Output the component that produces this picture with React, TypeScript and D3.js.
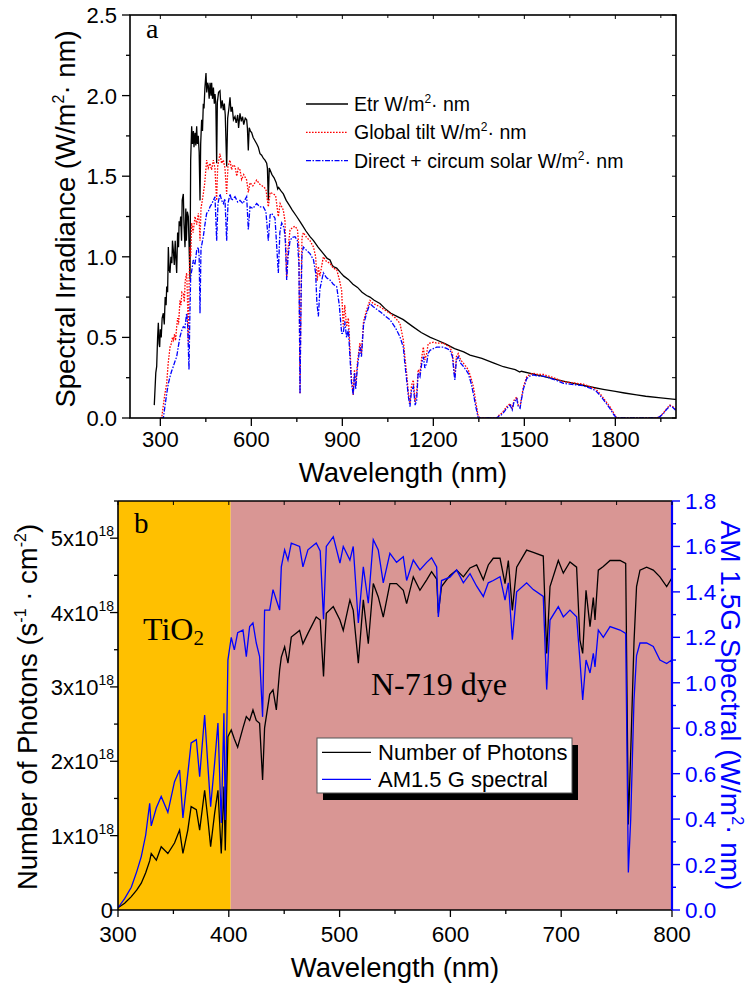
import React from "react";
import * as d3 from "d3";

// ---------- Panel a data (W/m^2 nm) ----------
const etrWl = [280,285,288,291,293.4,296,297.8,300,303,306,309.9,313,316,319,321,324,326.4,329,331.9,335,338,340,342.9,346,349,351,353.9,357,360,362,364.8,367,370,372,375.8,378,381.3,384,386,389,392.3,395,397.8,400,403.3,406,409,411,414.3,417,419.8,422,425,428,430.8,433,436.2,439,441.7,444,447,450.5,453,456,458.2,461,464,467,469.2,472,475,478,480.2,483,485.7,488,492,496.7,500,504,507.7,511,514,518.7,522,526,529.7,533,537,541,546.2,550,555,558,562.6,567,571,575,580,584.6,587,590,593,597,601,606,612,618,623,628.6,634,640,645,650.6,653,656,659,661.5,668,675,682,687,690,697,705.5,715,725,735,749.5,760,770,780,793.4,805,820,837.4,850,859.4,866,870,881.4,895,905,919.8,935,950,965,980,991,1005,1024,1040,1060,1080,1101,1130,1160,1190,1211,1240,1270,1300,1321,1360,1400,1431,1470,1485,1490,1541,1580,1620,1651,1700,1760,1800,1830,1870,1900,1950,1997,2000];
const etrVal = [0.08,0.28,0.32,0.5,0.59,0.46,0.44,0.55,0.5,0.62,0.65,0.58,0.75,0.7,0.815,0.78,1.06,0.92,0.9,1.0,0.96,1.1,1.04,0.95,1.1,1.0,0.9,1.15,1.06,1.22,1.19,1.25,1.1,1.35,1.39,1.2,1.06,1.3,1.1,1.28,1.25,1.05,0.86,1.6,1.81,1.7,1.78,1.68,1.77,1.69,1.81,1.7,1.75,1.65,1.35,1.7,1.85,1.78,1.95,1.92,2.05,2.14,2.02,2.08,2.06,1.98,2.08,2.0,2.08,1.98,2.05,1.95,2.01,1.95,1.58,1.96,2.02,2.03,1.92,1.97,1.91,1.95,1.88,1.56,1.86,1.92,1.99,1.9,1.93,1.85,1.87,1.83,1.88,1.8,1.89,1.84,1.87,1.82,1.86,1.85,1.8,1.66,1.8,1.78,1.77,1.74,1.72,1.7,1.68,1.64,1.63,1.61,1.6,1.58,1.55,1.35,1.55,1.54,1.51,1.49,1.46,1.42,1.43,1.41,1.39,1.35,1.32,1.29,1.25,1.22,1.19,1.16,1.125,1.1,1.06,1.02,0.99,0.98,0.95,0.94,0.93,0.9,0.88,0.86,0.83,0.81,0.78,0.76,0.75,0.73,0.71,0.68,0.65,0.63,0.61,0.57,0.53,0.5,0.484,0.46,0.43,0.41,0.39,0.37,0.34,0.318,0.3,0.285,0.29,0.267,0.25,0.232,0.219,0.2,0.178,0.165,0.155,0.143,0.135,0.125,0.116,0.115];

const globalWl = [300,304.4,310,315,321,326,331.9,336,340,342.9,347,350,353.9,357,360,364.8,368,371,375.8,379,382,386.8,389,392.3,395,397.8,400,403.3,408,414.3,420,425.3,428,430.8,434,441.7,446,452.7,458,463.7,469,474.7,480,485.7,489,496.7,502,507.7,513,518.7,523,529.7,535,540,546.2,552,557,562.6,568,575,584.6,590,595.6,605,617.6,628,639.6,648,656,662,672.5,680,689,695,705.5,711,716.5,721,727.5,735,744,752,757,760.5,764,767,771.5,782,793.4,805,812,817,821,826,837.4,848,859.4,870,881.4,890,897.8,903,908,914,920,926,930,936,940,944,950,958,963,970,980,991,1002,1024,1040,1057,1075,1090,1101,1106,1112,1118,1123,1128,1134,1140,1145,1150,1156,1162,1167,1172,1178,1183,1189,1200,1211,1233,1245,1255,1263,1268,1271,1276,1282,1290,1299,1307,1315,1324,1332,1340,1348,1355,1409,1418,1425,1434,1442,1453,1460,1466,1475,1480,1486,1490,1497,1508,1518,1530,1545,1563,1580,1596,1610,1629,1650,1673,1695,1717,1735,1750,1766,1782,1795,1804,1936,1947,1958,1970,1980,1990,2000];
const globalVal = [0,0,0.08,0.15,0.215,0.34,0.44,0.46,0.5,0.484,0.52,0.48,0.566,0.62,0.58,0.73,0.7,0.78,0.77,0.72,0.85,0.9,0.78,0.46,0.85,1.06,1.0,1.21,1.15,1.25,1.2,1.27,1.22,1.1,1.3,1.39,1.45,1.6,1.55,1.58,1.54,1.6,1.55,1.35,1.56,1.64,1.58,1.6,1.55,1.39,1.56,1.6,1.54,1.57,1.56,1.5,1.55,1.54,1.48,1.51,1.476,1.4,1.46,1.44,1.476,1.45,1.435,1.42,1.31,1.4,1.39,1.38,1.25,1.33,1.29,1.22,0.876,1.05,1.166,1.18,1.19,1.17,1.05,0.15,0.8,1.12,1.15,1.12,1.1,1.06,1.0,0.85,0.94,0.88,1.0,0.97,0.96,0.93,0.92,0.86,0.79,0.566,0.7,0.566,0.62,0.4,0.25,0.143,0.3,0.2,0.35,0.465,0.4,0.6,0.67,0.73,0.71,0.69,0.67,0.65,0.62,0.587,0.484,0.38,0.277,0.15,0.09,0.2,0.236,0.1,0.15,0.3,0.28,0.38,0.44,0.36,0.4,0.46,0.465,0.47,0.465,0.465,0.45,0.44,0.4,0.3,0.256,0.38,0.4,0.36,0.34,0.32,0.3,0.25,0.194,0.1,0.01,0,0,0.02,0.03,0.05,0.07,0.09,0.06,0.11,0.13,0.08,0.07,0.12,0.194,0.256,0.27,0.277,0.27,0.27,0.26,0.25,0.24,0.225,0.22,0.215,0.21,0.194,0.18,0.15,0.11,0.07,0.03,0,0,0.01,0.03,0.06,0.08,0.07,0.05];

const directWl = [300,309.9,315,321,326,331.9,337,342.9,348,353.9,359,364.8,370,375.8,381,386.8,390,394.5,397,400,404,408.8,414,419.8,425,428,430.8,434,441.7,447,452.7,458,463.7,470,480.2,485.7,490,496.7,502,507.7,513,518.7,523,529.7,535,540,546.2,555,562.6,572,584.6,590,595.6,605,617.6,628,639.6,648,656,662,667,678,689,694,700,708,712,716.5,721,727.5,735,744,752,757,760.5,764,767,771.5,782,793.4,805,812,816,821,826,837.4,848,859.4,870,881.4,890,897.8,903,908,914,920,926,930,936,940,944,950,958,963,970,980,991,1002,1024,1040,1057,1075,1090,1101,1106,1112,1118,1123,1128,1134,1140,1145,1150,1156,1162,1167,1172,1178,1183,1189,1200,1211,1233,1245,1255,1263,1268,1271,1276,1282,1290,1299,1307,1315,1324,1332,1340,1348,1409,1418,1425,1434,1442,1453,1460,1466,1475,1480,1486,1490,1497,1508,1518,1530,1545,1563,1580,1596,1610,1629,1650,1673,1695,1717,1735,1750,1766,1782,1795,1804,1936,1947,1958,1970,1980,1990,2000];
const directVal = [0,0,0.07,0.15,0.21,0.256,0.29,0.32,0.35,0.38,0.44,0.504,0.54,0.566,0.56,0.65,0.58,0.3,0.6,0.876,0.92,0.98,0.95,1.04,1.06,1.0,0.65,1.05,1.125,1.2,1.27,1.28,1.31,1.33,1.373,1.1,1.33,1.39,1.35,1.33,1.36,1.1,1.33,1.39,1.35,1.36,1.373,1.34,1.35,1.33,1.373,1.17,1.31,1.3,1.33,1.31,1.31,1.28,1.1,1.26,1.27,1.24,0.9,1.15,1.21,1.18,1.1,0.856,1.0,1.1,1.12,1.125,1.1,0.95,0.15,0.75,1.02,1.06,1.04,1.02,0.98,0.9,0.72,0.63,0.8,0.9,0.87,0.856,0.83,0.815,0.7,0.525,0.525,0.6,0.5,0.55,0.35,0.22,0.143,0.28,0.18,0.32,0.44,0.38,0.58,0.65,0.71,0.69,0.66,0.635,0.61,0.56,0.504,0.44,0.34,0.236,0.13,0.07,0.17,0.194,0.08,0.11,0.28,0.256,0.34,0.38,0.31,0.34,0.4,0.42,0.43,0.44,0.44,0.43,0.42,0.38,0.28,0.236,0.36,0.38,0.34,0.32,0.3,0.277,0.22,0.15,0.07,0,0,0.015,0.02,0.04,0.06,0.08,0.05,0.1,0.12,0.07,0.06,0.11,0.18,0.245,0.26,0.267,0.26,0.26,0.25,0.24,0.23,0.215,0.21,0.205,0.2,0.185,0.17,0.14,0.1,0.06,0.02,0,0,0.008,0.027,0.055,0.075,0.065,0.045];

// ---------- Panel b data ----------
const bWl = [300,306,312,317,321,325,328.6,330,334.6,339,345,351,355.6,358.6,363,366,370.7,373.7,378.2,381.2,383.6,387.2,390.2,393.2,395.6,396.8,399.2,402.2,405,408,412.8,415.8,418.8,421.8,424.8,427.8,430.5,432.3,436.9,439.9,442.9,445.9,447.4,450.4,453.4,456.4,463.9,466.9,471.4,478.9,482.5,485.5,488,494.3,500.3,503.3,509.3,512.3,516.9,521.4,525.9,530.4,534.9,539.4,545.4,551.4,557.5,560.5,566.5,572.5,578.6,583,587.6,589.1,592,599.6,605.6,611.7,617.7,623.7,629.7,634.2,638.7,644.8,649.3,652.3,655.9,659.8,668.8,674.8,683.8,686.9,689.9,697.4,701.9,707.9,713.9,716.9,719.4,722.4,726,729,730.5,733.5,738,744.1,753.1,758.2,760.6,762.7,765.7,768,771.1,777.1,783.1,789.1,795.2,799.7,800];
const bSpectral = [0.01,0.05,0.1,0.17,0.235,0.33,0.47,0.37,0.45,0.5,0.43,0.565,0.616,0.405,0.6,0.735,0.75,0.587,0.858,0.63,0.455,0.647,0.823,0.383,0.866,0.396,1.1,1.2,1.145,1.22,1.232,1.115,1.247,1.263,1.175,1.115,0.85,1.32,1.32,1.41,1.364,1.32,1.51,1.585,1.54,1.615,1.6,1.51,1.585,1.615,1.58,1.28,1.6,1.643,1.527,1.6,1.54,1.6,1.263,1.51,1.35,1.63,1.585,1.44,1.57,1.53,1.555,1.45,1.54,1.497,1.53,1.55,1.51,1.29,1.45,1.465,1.497,1.44,1.48,1.425,1.38,1.44,1.45,1.467,1.364,1.44,1.19,1.4,1.44,1.41,1.38,0.97,1.276,1.335,1.29,1.32,1.29,1.1,0.924,1.1,1.043,1.13,1.07,1.232,1.2,1.247,1.232,1.217,0.165,0.396,0.924,1.12,1.175,1.175,1.16,1.1,1.085,1.1,1.09];
const bPhotons = [0.03,0.09,0.18,0.27,0.36,0.5,0.66,0.76,0.67,0.85,0.76,0.9,1.075,0.76,1.075,1.39,1.35,1.075,1.61,1.21,0.85,1.3,1.61,0.76,1.66,0.8,2.33,2.42,2.3,2.19,2.45,2.6,2.55,2.69,2.55,2.51,1.75,2.45,2.9,2.96,2.69,3.23,3.4,3.54,3.32,3.67,3.76,3.58,3.72,3.94,3.9,3.14,3.99,4.08,3.9,3.76,4.17,4.03,3.32,4.17,3.58,4.39,4.21,3.94,4.39,4.39,4.3,4.12,4.48,4.3,4.44,4.55,4.45,3.99,4.35,4.5,4.57,4.48,4.6,4.64,4.44,4.64,4.73,4.73,4.39,4.7,4.03,4.61,4.84,4.81,4.76,3.45,4.35,4.7,4.53,4.68,4.61,3.63,3.45,4.3,3.81,4.2,3.9,4.57,4.62,4.7,4.7,4.66,1.15,2.1,3.6,4.35,4.57,4.61,4.57,4.48,4.35,4.46,4.4];

const topXTicks = [300, 600, 900, 1200, 1500, 1800];
const topYTicks = [0, 0.5, 1.0, 1.5, 2.0, 2.5];
const botXTicks = [300, 400, 500, 600, 700, 800];
const botLeftTicks = [0, 1, 2, 3, 4, 5];
const botRightTicks = [0, 0.2, 0.4, 0.6, 0.8, 1.0, 1.2, 1.4, 1.6, 1.8];

const SANS = "'Liberation Sans', Arial, sans-serif";
const SERIF = "'Liberation Serif', 'Times New Roman', serif";
const BLUE = "#0000ff";

export default function App() {
  // Panel a
  const xA = d3.scaleLinear().domain([200, 2000]).range([130, 676]);
  const yA = d3.scaleLinear().domain([0, 2.5]).range([418, 15]);
  const lineA = (wl: number[], v: number[]) =>
    d3.line<number>().x((_, i) => xA(wl[i])).y((d) => yA(d))(v) || "";

  // Panel b
  const xB = d3.scaleLinear().domain([300, 800]).range([118, 672]);
  const yBL = d3.scaleLinear().domain([0, 5.5]).range([910, 501]);
  const yBR = d3.scaleLinear().domain([0, 1.8]).range([910, 501]);
  const photLine = d3.line<number>().x((_, i) => xB(bWl[i])).y((d) => yBL(d))(bPhotons) || "";
  const specLine = d3.line<number>().x((_, i) => xB(bWl[i])).y((d) => yBR(d))(bSpectral) || "";

  const [ax0, ax1] = xA.range();
  const [ay0, ay1] = yA.range();
  const [bx0, bx1] = xB.range();
  const [by0, by1] = yBL.range();

  const aMinorX = d3.range(300, 2001, 150);
  const aMinorY = d3.range(0, 2.51, 0.25);
  const bMinorX = d3.range(300, 801, 50);
  const bMinorL = d3.range(0, 5.51, 0.5);
  const bMinorR = d3.range(0, 1.81, 0.1);

  return (
    <svg width={751} height={984} style={{ position: "absolute", left: 0, top: 0, background: "#fff" }}>
      <defs>
        <clipPath id="clipA"><rect x={ax0} y={ay1} width={ax1 - ax0} height={ay0 - ay1} /></clipPath>
        <clipPath id="clipB"><rect x={bx0} y={by1} width={bx1 - bx0} height={by0 - by1} /></clipPath>
      </defs>

      {/* ================= Panel a ================= */}
      <g clipPath="url(#clipA)">
        <path d={lineA(etrWl, etrVal)} fill="none" stroke="#000" strokeWidth={1.3} />
        <path d={lineA(globalWl, globalVal)} fill="none" stroke="#ff0000" strokeWidth={1.3} strokeDasharray="1.6 1.4" />
        <path d={lineA(directWl, directVal)} fill="none" stroke={BLUE} strokeWidth={1.3} strokeDasharray="5 1.5 1.5 1.5" />
      </g>
      <rect x={ax0} y={ay1} width={ax1 - ax0} height={ay0 - ay1} fill="none" stroke="#000" strokeWidth={1.6} />
      {aMinorX.map((v) => {
        const major = v % 300 === 0;
        return (
          <g key={"ax" + v}>
            <line x1={xA(v)} x2={xA(v)} y1={ay0} y2={ay0 + (major ? 8 : 4)} stroke="#000" strokeWidth={1.3} />
            <line x1={xA(v)} x2={xA(v)} y1={ay1} y2={ay1 + (major ? 4 : 3)} stroke="#000" strokeWidth={1} />
          </g>
        );
      })}
      {aMinorY.map((v) => {
        const major = Math.abs(v * 2 - Math.round(v * 2)) < 1e-6;
        return (
          <g key={"ay" + v}>
            <line x1={ax0} x2={ax0 - (major ? 8 : 4)} y1={yA(v)} y2={yA(v)} stroke="#000" strokeWidth={1.3} />
            <line x1={ax1} x2={ax1 - 4} y1={yA(v)} y2={yA(v)} stroke="#000" strokeWidth={1} />
          </g>
        );
      })}
      {topXTicks.map((v) => (
        <text key={"axl" + v} x={xA(v)} y={446.5} textAnchor="middle" fontFamily={SANS} fontSize={22}>{v}</text>
      ))}
      {topYTicks.map((v) => (
        <text key={"ayl" + v} x={117} y={yA(v) + 8} textAnchor="end" fontFamily={SANS} fontSize={22}>{v.toFixed(1)}</text>
      ))}
      <text x={403} y={482} textAnchor="middle" fontFamily={SANS} fontSize={27.5}>Wavelength (nm)</text>
      <text transform="translate(74.5,219) rotate(-90)" textAnchor="middle" fontFamily={SANS} fontSize={27.5}>
        Spectral Irradiance (W/m<tspan fontSize={16} dy={-11}>2</tspan><tspan dy={11}>· nm)</tspan>
      </text>
      <text x={146} y={38} fontFamily={SERIF} fontSize={28}>a</text>

      {/* legend a */}
      <line x1={306} x2={348} y1={104} y2={104} stroke="#000" strokeWidth={1.3} />
      <line x1={306} x2={348} y1={132.3} y2={132.3} stroke="#ff0000" strokeWidth={1.3} strokeDasharray="1.6 1.4" />
      <line x1={306} x2={348} y1={160.7} y2={160.7} stroke={BLUE} strokeWidth={1.3} strokeDasharray="5 1.5 1.5 1.5" />
      <text x={354} y={111} fontFamily={SANS} fontSize={19.5}>
        Etr W/m<tspan fontSize={12} dy={-8}>2</tspan><tspan dy={8}>· nm</tspan>
      </text>
      <text x={354} y={139.3} fontFamily={SANS} fontSize={19.5}>
        Global tilt W/m<tspan fontSize={12} dy={-8}>2</tspan><tspan dy={8}>· nm</tspan>
      </text>
      <text x={354} y={167.7} fontFamily={SANS} fontSize={19.5}>
        Direct + circum solar W/m<tspan fontSize={12} dy={-8}>2</tspan><tspan dy={8}>· nm</tspan>
      </text>

      {/* ================= Panel b ================= */}
      <rect x={bx0} y={by1} width={xB(401.7) - bx0} height={by0 - by1} fill="#ffc000" />
      <rect x={xB(401.7)} y={by1} width={bx1 - xB(401.7)} height={by0 - by1} fill="#d99694" />
      <g clipPath="url(#clipB)">
        <path d={photLine} fill="none" stroke="#000" strokeWidth={1.3} />
        <path d={specLine} fill="none" stroke={BLUE} strokeWidth={1.3} />
      </g>
      <line x1={bx0} x2={bx1} y1={by1} y2={by1} stroke="#000" strokeWidth={1.6} />
      <line x1={bx0} x2={bx1} y1={by0} y2={by0} stroke="#000" strokeWidth={1.6} />
      <line x1={bx0} x2={bx0} y1={by1} y2={by0} stroke="#000" strokeWidth={1.6} />
      <line x1={bx1} x2={bx1} y1={by1} y2={by0} stroke={BLUE} strokeWidth={2.2} />
      {bMinorX.map((v) => {
        const major = v % 100 === 0;
        return (
          <g key={"bx" + v}>
            <line x1={xB(v)} x2={xB(v)} y1={by0} y2={by0 + (major ? 7 : 4)} stroke="#000" strokeWidth={1.3} />
            <line x1={xB(v)} x2={xB(v)} y1={by1} y2={by1 + 4} stroke="#000" strokeWidth={1} />
          </g>
        );
      })}
      {bMinorL.map((v) => {
        const major = Math.abs(v - Math.round(v)) < 1e-6;
        return <line key={"bl" + v} x1={bx0} x2={bx0 - (major ? 8 : 4)} y1={yBL(v)} y2={yBL(v)} stroke="#000" strokeWidth={1.3} />;
      })}
      {bMinorR.map((v) => {
        const major = Math.abs(v * 5 - Math.round(v * 5)) < 1e-6;
        return <line key={"br" + v} x1={bx1} x2={bx1 + (major ? 8 : 4)} y1={yBR(v)} y2={yBR(v)} stroke={BLUE} strokeWidth={1.4} />;
      })}
      {botXTicks.map((v) => (
        <text key={"bxl" + v} x={xB(v)} y={941.5} textAnchor="middle" fontFamily={SANS} fontSize={22.5}>{v}</text>
      ))}
      {botLeftTicks.map((v) =>
        v === 0 ? (
          <text key={"bll" + v} x={113} y={yBL(v) + 8} textAnchor="end" fontFamily={SANS} fontSize={22}>0</text>
        ) : (
          <text key={"bll" + v} x={114} y={yBL(v) + 8} textAnchor="end" fontFamily={SANS} fontSize={22}>
            {v}x10<tspan fontSize={14} dy={-10}>18</tspan>
          </text>
        )
      )}
      {botRightTicks.map((v) => (
        <text key={"brl" + v} x={685} y={yBR(v) + 8} fontFamily={SANS} fontSize={22.5} fill={BLUE}>{v.toFixed(1)}</text>
      ))}
      <text x={395} y={976.5} textAnchor="middle" fontFamily={SANS} fontSize={27.5}>Wavelength (nm)</text>
      <text transform="translate(36.5,707) rotate(-90)" textAnchor="middle" fontFamily={SANS} fontSize={27.5}>
        Number of Photons (s<tspan fontSize={16} dy={-11}>-1</tspan><tspan dy={11}> · cm</tspan><tspan fontSize={16} dy={-11}>-2</tspan><tspan dy={11}>)</tspan>
      </text>
      <text transform="translate(721,705.5) rotate(90)" textAnchor="middle" fontFamily={SANS} fontSize={28} fill={BLUE}>
        AM 1.5G Spectral (W/m<tspan fontSize={16} dy={-11}>2</tspan><tspan dy={11}>· nm)</tspan>
      </text>
      <text x={134} y={533} fontFamily={SERIF} fontSize={29}>b</text>
      <text x={143} y={640} fontFamily={SERIF} fontSize={32}>
        TiO<tspan fontSize={21} dy={5}>2</tspan>
      </text>
      <text x={371} y={695} fontFamily={SERIF} fontSize={32}>N-719 dye</text>

      {/* legend b */}
      <rect x={323} y={745} width={255} height={55} fill="#000" />
      <rect x={317} y={738} width={255} height={55} fill="#fff" stroke="#555" strokeWidth={1} />
      <line x1={322} x2={371} y1={752.3} y2={752.3} stroke="#000" strokeWidth={1.2} />
      <line x1={322} x2={371} y1={779.3} y2={779.3} stroke={BLUE} strokeWidth={1.2} />
      <text x={378} y={760} fontFamily={SANS} fontSize={22}>Number of Photons</text>
      <text x={378} y={787} fontFamily={SANS} fontSize={22}>AM1.5 G spectral</text>
    </svg>
  );
}
